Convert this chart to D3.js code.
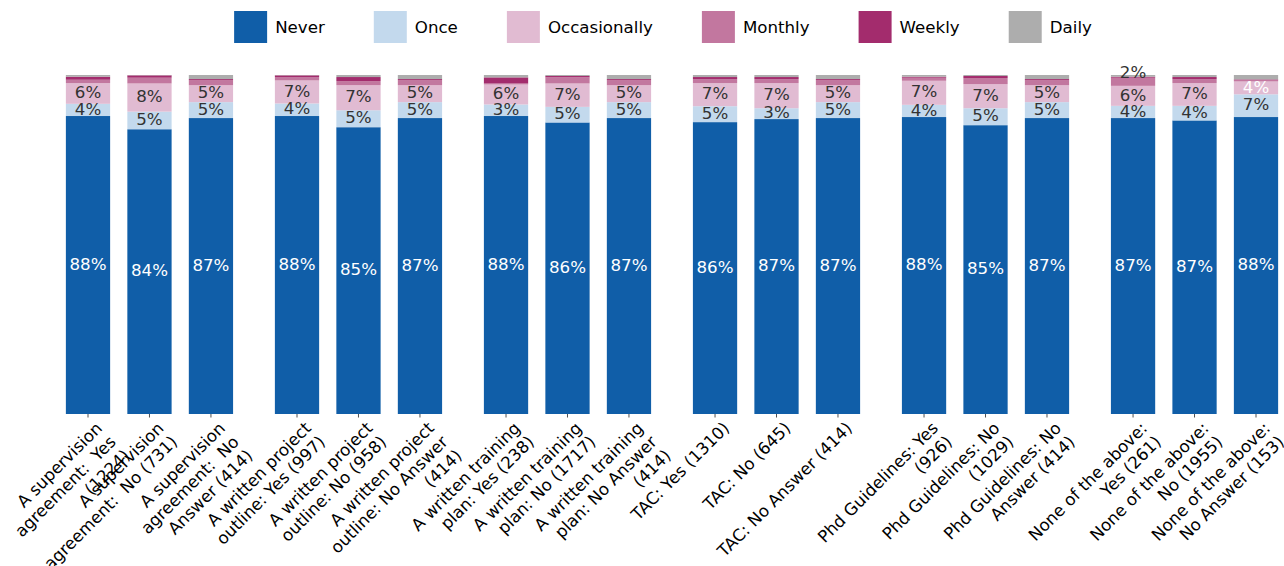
<!DOCTYPE html>
<html><head><meta charset="utf-8">
<script src="https://cdn.jsdelivr.net/npm/d3@7"></script>
<style>
body{margin:0;background:#fff}
svg{display:block;font-family:"DejaVu Sans",sans-serif}
</style>
</head><body>
<svg id="chart" width="1284" height="566"></svg>
<script>
// ---------- data ----------
const categories = [
  "A supervision\nagreement:  Yes\n(1224)",
  "A supervision\nagreement:  No (731)",
  "A supervision\nagreement:  No\nAnswer (414)",
  "A written project\noutline: Yes (997)",
  "A written project\noutline: No (958)",
  "A written project\noutline: No Answer\n(414)",
  "A written training\nplan: Yes (238)",
  "A written training\nplan: No (1717)",
  "A written training\nplan: No Answer\n(414)",
  "TAC: Yes (1310)",
  "TAC: No (645)",
  "TAC: No Answer (414)",
  "Phd Guidelines: Yes\n(926)",
  "Phd Guidelines: No\n(1029)",
  "Phd Guidelines: No\nAnswer (414)",
  "None of the above:\nYes (261)",
  "None of the above:\nNo (1955)",
  "None of the above:\nNo Answer (153)"
];
const groups = [0,0,0, 1,1,1, 2,2,2, 3,3,3, 4,4,4, 5,5,5];
const seriesNames = ["Never","Once","Occasionally","Monthly","Weekly","Daily"];

const never        = [87.9, 84.0, 87.3, 87.9, 84.6, 87.3, 87.9, 86.0, 87.3, 86.1, 87.0, 87.3, 87.6, 85.2, 87.3, 87.3, 86.6, 87.6];
const once         = [ 3.6,  5.2,  4.7,  3.7,  5.0,  4.7,  3.4,  4.6,  4.7,  4.7,  3.2,  4.7,  3.6,  5.0,  4.7,  3.6,  4.3,  6.7];
const occasionally = [ 6.1,  8.3,  5.0,  6.8,  7.4,  5.0,  5.9,  6.9,  5.0,  6.8,  7.4,  5.0,  7.1,  7.1,  5.0,  5.9,  6.7,  3.8];
const monthly      = [ 1.0,  1.7,  1.5,  1.0,  1.2,  1.5,  0.3,  1.8,  1.5,  1.2,  1.2,  1.5,  0.9,  1.8,  1.5,  2.4,  1.2,  0.3];
const weekly       = [ 0.9,  0.7,  0.3,  0.5,  1.2,  0.3,  1.8,  0.4,  0.3,  0.6,  0.6,  0.3,  0.3,  0.6,  0.3,  0.3,  0.6,  0.3];
const daily        = [ 0.5,  0.1,  1.2,  0.1,  0.6,  1.2,  0.7,  0.3,  1.2,  0.6,  0.6,  1.2,  0.5,  0.3,  1.2,  0.5,  0.6,  1.3];

const seriesColors = ["#105ea8", "#c3d9ed", "#e1bbd2", "#c2779f", "#a32c6d", "#adadad"];
// labels drawn in white apart from the "Never" ones: [bar index, series index]
const whiteLabelOverrides = [[17, 2]];

// ---------- build ----------
const values = [never, once, occasionally, monthly, weekly, daily];
const rows = categories.map((c, i) => {
  const r = {cat: c, i, pos: i + groups[i] * 0.4};
  seriesNames.forEach((s, k) => r[s] = values[k][i]);
  return r;
});
const stacked = d3.stack().keys(seriesNames)(rows);

const svg = d3.select("#chart");
const x = d3.scaleLinear().domain([0, 19]).range([88, 1256]);
const y = d3.scaleLinear().domain([0, 100]).range([414, 75]);
const barW = x(0.72) - x(0);
const fontSize = 16.67;

// bars
stacked.forEach((layer, k) => {
  svg.append("g").attr("fill", seriesColors[k])
    .selectAll("rect").data(layer).join("rect")
    .attr("x", d => x(d.data.pos) - barW / 2)
    .attr("width", barW)
    .attr("y", d => y(d[1]))
    .attr("height", d => y(d[0]) - y(d[1]));
});

// value labels
const labelG = svg.append("g").attr("font-size", fontSize).attr("text-anchor", "middle");
rows.forEach((r, i) => {
  let lastY = null;
  const top = y(d3.sum(values, v => v[i]));
  stacked.forEach((layer, k) => {
    const d = layer[i];
    const v = d[1] - d[0];
    if (v < 2) return;
    let cy = (y(d[0]) + y(d[1])) / 2;
    if (lastY !== null && lastY - cy < 15) cy = top - 1.5;
    lastY = cy;
    const white = k === 0 || whiteLabelOverrides.some(o => o[0] === i && o[1] === k);
    labelG.append("text")
      .attr("x", x(r.pos))
      .attr("y", cy)
      .attr("dy", "0.28em")
      .attr("fill", white ? "#ffffff" : "#333333")
      .text(Math.round(v) + "%");
  });
});

// x axis ticks + rotated labels
const axisG = svg.append("g");
axisG.selectAll("line").data(rows).join("line")
  .attr("x1", d => x(d.pos)).attr("x2", d => x(d.pos))
  .attr("y1", 414).attr("y2", 417.5)
  .attr("stroke", "#222").attr("stroke-width", 0.8);

const lineH = 19.5;
rows.forEach(r => {
  const t = axisG.append("text")
    .attr("transform", `translate(${x(r.pos) + 6},${420}) rotate(-45)`)
    .attr("text-anchor", "end")
    .attr("font-size", fontSize)
    .attr("fill", "#000")
    .style("white-space", "pre");
  r.cat.split("\n").forEach((ln, j) => {
    t.append("tspan").attr("x", 0).attr("dy", j === 0 ? "0.78em" : lineH).text(ln);
  });
});

// legend
const leg = svg.append("g").attr("font-size", fontSize);
let lx = 0;
seriesNames.forEach((s, k) => {
  const g = leg.append("g");
  g.append("rect").attr("x", lx).attr("y", 11).attr("width", 33).attr("height", 32).attr("fill", seriesColors[k]);
  const t = g.append("text").attr("x", lx + 41).attr("y", 27).attr("dy", "0.35em").attr("fill", "#000").text(s);
  const w = t.node().getComputedTextLength();
  lx += 41 + w + 49;
});
const legW = lx - 49;
leg.attr("transform", `translate(${663 - legW / 2},0)`);
</script>
</body></html>
